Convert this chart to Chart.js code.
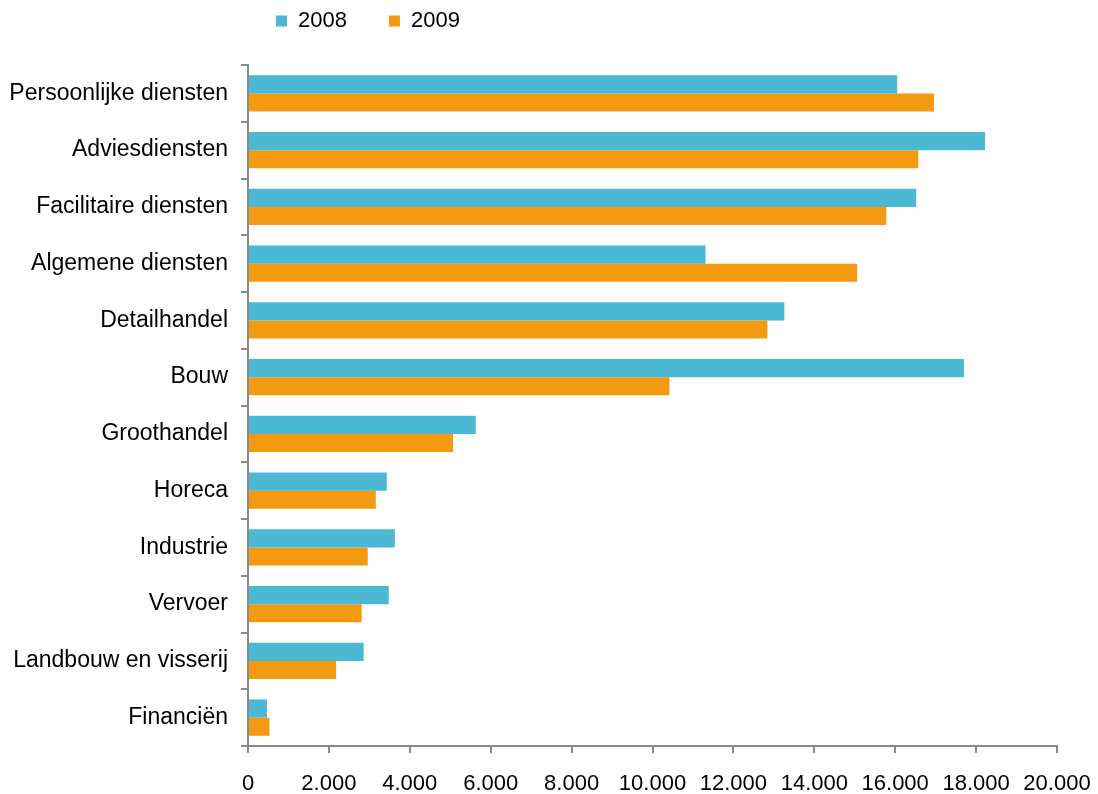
<!DOCTYPE html>
<html>
<head>
<meta charset="utf-8">
<script src="https://cdn.jsdelivr.net/npm/chart.js@4.4.1/dist/chart.umd.min.js"></script>
<style>
  html, body { margin: 0; padding: 0; background: #ffffff; }
  #wrap { width: 1098px; height: 794px; }
</style>
</head>
<body>
<div id="wrap"><canvas id="c" width="1098" height="794"></canvas></div>
<script>
const categories = ['Persoonlijke diensten', 'Adviesdiensten', 'Facilitaire diensten', 'Algemene diensten', 'Detailhandel', 'Bouw', 'Groothandel', 'Horeca', 'Industrie', 'Vervoer', 'Landbouw en visserij', 'Financiën'];
const values2008 = [16050, 18220, 16520, 11310, 13260, 17700, 5630, 3430, 3630, 3480, 2860, 470];
const values2009 = [16960, 16570, 15780, 15060, 12840, 10420, 5070, 3160, 2960, 2810, 2180, 530];
const seriesNames = ['2008', '2009'];
const xMin = 0, xMax = 20000, xStep = 2000;

const FONT = '"Liberation Sans", Arial, sans-serif';
const AXIS = '#8a8a8a';

function fmt(v) {
  return String(v).replace(/\B(?=(\d{3})+(?!\d))/g, '.');
}

const legendShift = {
  id: 'legendShift',
  afterLayout(chart) {
    const lg = chart.legend;
    if (!lg) return;
    const w = lg.width, h = lg.height;
    lg.left = 234; lg.right = lg.left + w;
    lg.top = -32; lg.bottom = lg.top + h;
  }
};

new Chart(document.getElementById('c'), {
  type: 'bar',
  data: {
    labels: categories,
    datasets: [
      { label: seriesNames[0], data: values2008, backgroundColor: '#4bb8d4', borderWidth: 0 },
      { label: seriesNames[1], data: values2009, backgroundColor: '#f39a11', borderWidth: 0 }
    ]
  },
  options: {
    indexAxis: 'y',
    responsive: false,
    animation: false,
    devicePixelRatio: 1,
    barPercentage: 1,
    categoryPercentage: 0.64,
    layout: { padding: { top: 0, left: 0, right: 41, bottom: 0 } },
    plugins: {
      legend: {
        position: 'top',
        align: 'start',
        maxHeight: 65,
        labels: {
          boxWidth: 11,
          boxHeight: 11,
          padding: 42,
          color: '#000',
          font: { family: FONT, size: 22 }
        }
      },
      tooltip: { enabled: false },
      title: { display: false }
    },
    scales: {
      x: {
        min: xMin,
        max: xMax,
        afterFit(s) { s.height = 48; s.paddingLeft = 0; s.paddingRight = 0; },
        border: { display: true, color: AXIS, width: 2 },
        grid: { drawOnChartArea: false, drawTicks: true, tickLength: 7, color: AXIS, lineWidth: 2 },
        ticks: {
          stepSize: xStep,
          color: '#000',
          padding: 18,
          font: { family: FONT, size: 22 },
          maxRotation: 0,
          callback: (v) => fmt(v)
        }
      },
      y: {
        afterFit(s) { s.width = 248; s.paddingTop = 0; s.paddingBottom = 0; },
        border: { display: true, color: AXIS, width: 2 },
        grid: { drawOnChartArea: false, drawTicks: true, tickLength: 7, color: AXIS, lineWidth: 2, offset: true },
        ticks: {
          color: '#000',
          padding: 13,
          font: { family: FONT, size: 23 }
        }
      }
    }
  },
  plugins: [legendShift]
});
</script>
</body>
</html>
